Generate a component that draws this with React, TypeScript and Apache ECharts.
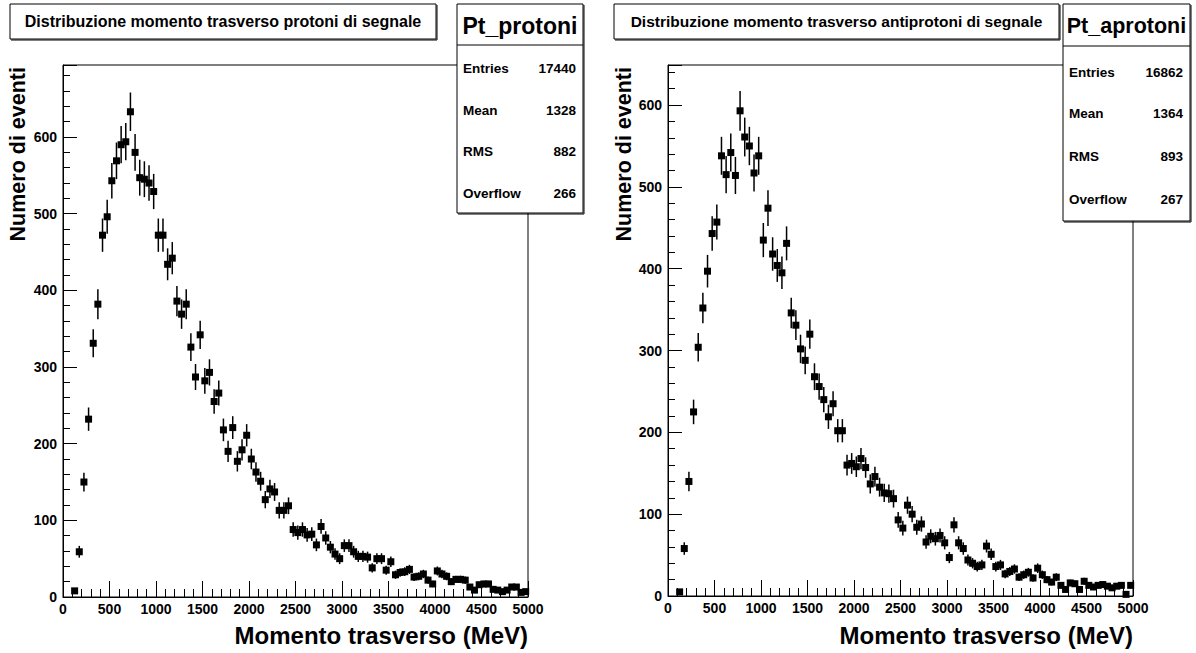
import React, { useEffect, useRef } from "react";
import * as echarts from "echarts";

// Histogram binning (MeV): first filled bin starts at 100 MeV, 50 MeV wide bins
const FIRST_BIN_LOW_EDGE = 100;
const BIN_WIDTH = 50;

// Axis ticks
const X_MIN = 0;
const X_MAX = 5000;
const X_INTERVAL = 500;
const Y_INTERVAL = 100;
const Y_MINOR_INTERVAL = 20;

// Counts per bin
const protoniCounts = [
  8, 59, 150, 232, 331, 382, 472, 496, 543, 569, 590, 594, 633, 580, 547, 545, 540, 529,
  472, 472, 434, 442, 386, 369, 382, 326, 287, 342, 282, 293, 255, 266, 218, 190, 221, 177,
  192, 211, 180, 163, 151, 127, 141, 137, 113, 113, 119, 88, 84, 88, 81, 82, 68, 92,
  77, 65, 56, 50, 67, 67, 59, 53, 53, 52, 38, 50, 50, 35, 46, 29, 32, 33,
  36, 26, 27, 30, 22, 17, 34, 30, 27, 20, 23, 23, 22, 13, 9, 16, 17, 17,
  10, 9, 7, 9, 13, 13, 6, 7,
];

const aprotoniCounts = [
  5, 58, 140, 225, 304, 352, 397, 443, 457, 538, 515, 542, 514, 593, 561, 550, 517, 538,
  435, 474, 418, 404, 395, 431, 346, 331, 302, 288, 320, 268, 256, 240, 219, 235, 202, 202,
  160, 162, 158, 168, 157, 137, 146, 133, 126, 125, 119, 93, 83, 111, 100, 84, 88, 66,
  73, 70, 74, 65, 47, 87, 65, 58, 44, 40, 36, 38, 61, 51, 36, 38, 27, 30,
  33, 23, 26, 29, 22, 34, 26, 20, 17, 23, 13, 8, 16, 15, 8, 18, 13, 11,
  13, 14, 12, 10, 12, 13, 2, 13,
];

// Titles and statistics
const PANEL_TITLES = [
  "Distribuzione momento trasverso protoni di segnale",
  "Distribuzione momento trasverso antiprotoni di segnale",
];
const HIST_NAMES = ["Pt_protoni", "Pt_aprotoni"];
const STAT_LABELS = ["Entries", "Mean", "RMS", "Overflow"];
const protoniStats = ["17440", "1328", "882", "266"];
const aprotoniStats = ["16862", "1364", "893", "267"];
const X_TITLE = "Momento trasverso (MeV)";
const Y_TITLE = "Numero di eventi";

const FONT = '"Liberation Sans", Arial, Helvetica, sans-serif';

const toPoints = (counts: number[]) =>
  counts.map((c, i) => [FIRST_BIN_LOW_EDGE + BIN_WIDTH * (i + 0.5), c]);

const renderItem = (params: any, api: any) => {
  const x = api.value(0);
  const v = api.value(1);
  const err = Math.sqrt(v);
  const c = api.coord([x, v]);
  const hi = api.coord([x, v + err]);
  const lo = api.coord([x, Math.max(0, v - err)]);
  const s = 7;
  return {
    type: "group",
    children: [
      {
        type: "line",
        shape: { x1: c[0], y1: hi[1], x2: c[0], y2: lo[1] },
        style: { stroke: "#000", lineWidth: 1.5 },
      },
      {
        type: "rect",
        shape: { x: c[0] - s / 2, y: c[1] - s / 2, width: s, height: s },
        style: { fill: "#000" },
      },
    ],
  };
};

const PANELS = [
  {
    grid: { left: 63, top: 65, width: 465, height: 532 },
    yMax: 694,
    counts: protoniCounts,
    title: { x: 10, y: 4, w: 426, h: 35, fontSize: 16 },
    stat: { x: 457, y: 4, w: 126, h: 209, headH: 41, headFont: 23, rows: [68, 110, 151, 193], values: protoniStats },
    yTitleX: 18,
  },
  {
    grid: { left: 668, top: 65, width: 465, height: 531 },
    yMax: 649,
    counts: aprotoniCounts,
    title: { x: 614, y: 4, w: 445, h: 35, fontSize: 15.5 },
    stat: { x: 1063, y: 4, w: 127, h: 217, headH: 42, headFont: 21.5, rows: [72, 113, 156, 199], values: aprotoniStats },
    yTitleX: 624,
  },
];

const boxWithShadow = (x: number, y: number, w: number, h: number) => [
  { type: "rect", shape: { x, y, width: w, height: h }, style: { fill: "#fff", stroke: "#000", lineWidth: 1 }, z: 10 },
  { type: "line", shape: { x1: x + w + 1, y1: y + 1, x2: x + w + 1, y2: y + h + 1 }, style: { stroke: "#000", lineWidth: 1 }, z: 10 },
  { type: "line", shape: { x1: x + 1, y1: y + h + 1, x2: x + w + 1, y2: y + h + 1 }, style: { stroke: "#000", lineWidth: 1 }, z: 10 },
];

const txt = (text: string, x: number, y: number, size: number, align: string, extra: any = {}) => ({
  type: "text",
  x,
  y,
  z: 11,
  ...extra,
  style: {
    text,
    fill: "#000",
    font: `bold ${size}px ${FONT}`,
    textAlign: align,
    textVerticalAlign: "middle",
    align,
    verticalAlign: "middle",
  },
});

export default function App() {
  const ref = useRef<HTMLDivElement>(null);

  useEffect(() => {
    if (!ref.current) return;
    const chart = echarts.init(ref.current, null, { renderer: "svg" });

    const grids: any[] = [];
    const xAxes: any[] = [];
    const yAxes: any[] = [];
    const series: any[] = [];
    const graphics: any[] = [];

    PANELS.forEach((p, i) => {
      grids.push({
        ...p.grid,
        show: true,
        borderColor: "#000",
        borderWidth: 1,
        backgroundColor: "transparent",
        containLabel: false,
      });
      xAxes.push({
        type: "value",
        gridIndex: i,
        min: X_MIN,
        max: X_MAX,
        interval: X_INTERVAL,
        axisLine: { show: true, onZero: false, lineStyle: { color: "#000", width: 1 } },
        axisTick: { show: true, inside: true, length: 16, lineStyle: { color: "#000", width: 1 } },
        minorTick: { show: true, splitNumber: 5, length: 8, lineStyle: { color: "#000", width: 1 } },
        splitLine: { show: false },
        axisLabel: {
          color: "#000",
          fontFamily: FONT,
          fontWeight: "bold",
          fontSize: 14,
          margin: 5,
          showMaxLabel: true,
          showMinLabel: true,
          formatter: (v: number) => String(v),
        },
      });
      // major y axis with labels
      yAxes.push({
        type: "value",
        gridIndex: i,
        min: 0,
        max: p.yMax,
        interval: Y_INTERVAL,
        position: "left",
        axisLine: { show: true, onZero: false, lineStyle: { color: "#000", width: 1 } },
        axisTick: { show: true, inside: true, length: 14, lineStyle: { color: "#000", width: 1 } },
        splitLine: { show: false },
        axisLabel: {
          color: "#000",
          fontFamily: FONT,
          fontWeight: "bold",
          fontSize: 14,
          margin: 6,
          formatter: (v: number) => (v % Y_INTERVAL === 0 ? String(v) : ""),
        },
      });
      // minor y ticks
      yAxes.push({
        type: "value",
        gridIndex: i,
        min: 0,
        max: p.yMax,
        interval: Y_MINOR_INTERVAL,
        position: "left",
        offset: 0,
        axisLine: { show: false },
        axisTick: { show: true, inside: true, length: 7, lineStyle: { color: "#000", width: 1 } },
        splitLine: { show: false },
        axisLabel: { show: false },
      });
      series.push({
        type: "custom",
        xAxisIndex: i,
        yAxisIndex: i * 2,
        renderItem,
        clip: false,
        data: toPoints(p.counts),
        z: 5,
      });

      // Title box
      const t = p.title;
      graphics.push(...boxWithShadow(t.x, t.y, t.w, t.h));
      graphics.push(txt(PANEL_TITLES[i], t.x + t.w / 2, t.y + t.h / 2, t.fontSize, "center"));

      // Stats box
      const s = p.stat;
      graphics.push(...boxWithShadow(s.x, s.y, s.w, s.h));
      graphics.push({
        type: "line",
        z: 11,
        shape: { x1: s.x, y1: s.y + s.headH, x2: s.x + s.w, y2: s.y + s.headH },
        style: { stroke: "#000", lineWidth: 1 },
      });
      graphics.push(txt(HIST_NAMES[i], s.x + s.w / 2, s.y + s.headH / 2 + 1, s.headFont, "center"));
      STAT_LABELS.forEach((lab, k) => {
        graphics.push(txt(lab, s.x + 6, s.rows[k], 13.5, "left"));
        graphics.push(txt(s.values[k], s.x + s.w - 7, s.rows[k], 13.5, "right"));
      });

      // Axis titles
      const g = p.grid;
      graphics.push(txt(X_TITLE, g.left + g.width, 635, 24, "right"));
      graphics.push(
        txt(Y_TITLE, p.yTitleX, g.top + 2, 21.5, "right", { rotation: Math.PI / 2 })
      );
    });

    chart.setOption({
      animation: false,
      backgroundColor: "#fff",
      grid: grids,
      xAxis: xAxes,
      yAxis: yAxes,
      series,
      graphic: { elements: graphics },
    });

    return () => chart.dispose();
  }, []);

  return (
    <div
      ref={ref}
      style={{ position: "fixed", left: 0, top: 0, width: 1196, height: 653, background: "#fff" }}
    />
  );
}
